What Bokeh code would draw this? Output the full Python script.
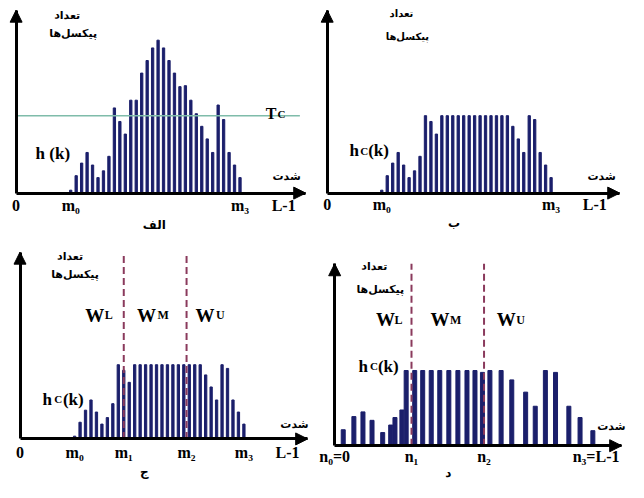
from bokeh.plotting import figure
from bokeh.models import Range1d, FixedTicker, Arrow, NormalHead
from bokeh.layouts import column, row
from bokeh.core.properties import value
from bokeh.embed import file_html
from bokeh.resources import INLINE
import numpy as np

# ---------------- data ----------------
L_MAX = 49                                  # L-1
k_levels = list(range(10, 42))              # grey levels with pixels
h_k = [3, 18, 31, 42, 29, 16, 23, 38, 88, 74, 61, 96, 96, 124, 137, 150,
       158, 150, 137, 124, 110, 111, 96, 82, 69, 56, 42, 91, 76, 42, 29, 16]
T_c = 80                                    # clipping threshold
m0, m1, m2, m3 = 10, 19, 30.5, 41
hc_k = np.minimum(np.array(h_k), T_c)       # clipped histogram

eq_levels = [1.6, 3.6, 5.3, 7.0, 9.0, 10.5, 11.3, 12.6, 13.4, 15.0, 16.5, 18.1,
             19.7, 21.4, 23.1, 24.8, 26.3, 27.7, 29.1, 31.2, 33.2, 35.8, 37.6,
             39.5, 41.4, 43.9, 46.0, 48.4]
eq_h = [17, 31, 36, 27, 14, 22, 30, 38, 80, 80, 80, 80, 80, 80, 80, 80, 80,
        78, 80, 80, 70, 57, 42, 80, 78, 42, 30, 16]
n0, n1, n2, n3 = 0, 14.4, 28.0, 49

labels_1 = {0: "0", m0: "m₀", m3: "m₃", L_MAX: "L-1"}
labels_3 = {0: "0", m0: "m₀", m1: "m₁", m2: "m₂", m3: "m₃", L_MAX: "L-1"}
labels_4 = {n0: "n₀=0", n1: "n₁", n2: "n₂", n3: "n₃=L-1"}

BAR = "#1b1f6b"
SERIF = "Liberation Serif"
FA = "DejaVu Sans"
DASH = "#8a3a5c"

# layout: a 644x498 design drawn on a 628x482 canvas
CW, CH = 628, 482
SX, SY = CW / 644, CH / 498
WL, HT = 314, 237
XS, YS = WL / SX, HT / SY          # split lines in design pixels


class Panel:
    """Figure whose frame fills its box; positions are given in design pixels."""

    def __init__(self, box, size, origin, ppu, tip, ticks, overrides, standoff):
        fx0, fy0, fx1, fy1 = box
        self.ox, self.oy = origin
        self.px, self.py = ppu
        self.p = p = figure(width=size[0], height=size[1],
                            x_range=Range1d(self.X(fx0), self.X(fx1)),
                            y_range=Range1d(self.Y(fy1), self.Y(fy0)),
                            output_backend="svg", toolbar_location=None,
                            min_border_left=0, min_border_right=0,
                            min_border_top=0, min_border_bottom=0)
        p.outline_line_color = None
        p.grid.visible = False
        p.background_fill_color = "white"
        p.border_fill_color = "white"
        self.xt = self.X(tip[0])
        self.yt = self.Y(tip[1])
        xa = p.xaxis[0]
        xa.fixed_location = 0
        xa.bounds = (0, self.xt)
        xa.ticker = FixedTicker(ticks=ticks)
        xa.major_label_overrides = overrides
        xa.axis_line_width = 3
        xa.axis_line_color = "black"
        xa.major_tick_out = 0
        xa.major_tick_in = 0
        xa.minor_tick_out = 0
        xa.minor_tick_in = 0
        xa.major_label_standoff = standoff
        xa.major_label_text_font = SERIF
        xa.major_label_text_font_style = "bold"
        xa.major_label_text_font_size = "16px"
        xa.major_label_text_color = "black"
        ya = p.yaxis[0]
        ya.fixed_location = 0
        ya.bounds = (0, self.yt)
        ya.ticker = FixedTicker(ticks=[])
        ya.axis_line_width = 3
        ya.axis_line_color = "black"
        ya.major_tick_out = 0
        ya.major_tick_in = 0
        ya.minor_tick_out = 0
        ya.minor_tick_in = 0
        ya.major_label_text_font_size = "0px"
        head = dict(size=12, fill_color="black", line_color="black")
        p.add_layout(Arrow(end=NormalHead(**head), x_start=self.xt - 2, y_start=0,
                           x_end=self.xt, y_end=0, line_width=3, line_color="black"))
        p.add_layout(Arrow(end=NormalHead(**head), x_start=0, y_start=self.yt - 8 / self.py,
                           x_end=0, y_end=self.yt, line_width=3, line_color="black"))

    def X(self, dx):
        return (dx - self.ox) / self.px

    def Y(self, dy):
        return (self.oy - dy) / self.py

    def latin(self, left, base, s, size):
        self.p.text(x=[self.X(left)], y=[self.Y(base)], text=[s],
                    text_font=value(SERIF), text_font_style="bold", text_font_size=size,
                    text_align="left", text_baseline="alphabetic", text_color="black")

    def farsi(self, left, mid, s, size="12px"):
        self.p.text(x=[self.X(left)], y=[self.Y(mid)], text=[s],
                    text_font=value(FA), text_font_style="bold", text_font_size=size,
                    text_align="left", text_baseline="middle", text_color="black")

    def ylabel(self, l1, y1, l2, y2, size="11px"):
        self.farsi(l1, y1, "تعداد", size)
        self.farsi(l2, y2, "پیکسل\u200cها", size)

    def dashed(self, xs):
        self.p.segment(x0=xs, y0=[0] * len(xs), x1=xs, y1=[self.yt] * len(xs),
                       line_color=DASH, line_width=2, line_dash="7 4")


# ---------------- panel 1: original histogram ----------------
A = Panel((0, 0, XS, YS), (WL, HT), (16, 199), (5.6, 1.0), (313, 10),
          [0, m0, m3, L_MAX], labels_1, 4)
A.p.vbar(x=k_levels, top=h_k, width=0.42, color=BAR)
A.p.segment(x0=[0], y0=[T_c], x1=[A.X(307)], y1=[T_c], line_color="#7fbcaa", line_width=1.5)
A.ylabel(55, 15, 50, 34)
A.latin(272, 117, "T", "16px")
A.latin(284, 117, "C", "11px")
A.latin(36, 158, "h (k)", "17px")
A.farsi(279, 182, "شدت", "11px")
A.farsi(146, 232, "الف", "12px")

# ---------------- panel 2: clipped histogram ----------------
B = Panel((XS, 0, 644, YS), (CW - WL, HT), (335, 199), (5.6, 1.0), (635, 10),
          [0, m0, m3, L_MAX], labels_1, 3)
B.p.vbar(x=k_levels, top=hc_k, width=0.42, color=BAR)
B.ylabel(399, 13, 395, 37, "10px")
B.latin(358, 155, "h", "17px")
B.latin(369, 155, "C", "11px")
B.latin(377, 155, "(k)", "17px")
B.farsi(602, 182, "شدت", "11px")
B.farsi(459, 230, "ب", "12px")

# ---------------- panel 3: clipped histogram with sub-histograms ----------------
C = Panel((0, YS, XS, 498), (WL, CH - HT), (20, 453), (5.6, 76.7 / T_c), (315, 260),
          [0, m0, m1, m2, m3, L_MAX], labels_3, 5)
C.p.vbar(x=k_levels, top=hc_k, width=0.42, color=BAR)
C.dashed([m1, m2])
C.ylabel(58, 265, 52, 283)
for wx, sx, s in ((87, 107, "L"), (140, 161, "M"), (200, 221, "U")):
    C.latin(wx, 325, "W", "19px")
    C.latin(sx, 325, s, "12px")
C.latin(43, 412, "h", "17px")
C.latin(55, 412, "C", "11px")
C.latin(64, 412, "(k)", "17px")
C.farsi(287, 438, "شدت", "11px")
C.farsi(143, 487, "ج", "12px")

# ---------------- panel 4: equalized histogram ----------------
D = Panel((XS, YS, 644, 498), (CW - WL, CH - HT), (342.7, 460), (5.47, 77.7 / T_c), (637, 272),
          [n0, n1, n2, n3], labels_4, 2)
D.p.vbar(x=eq_levels, top=eq_h, width=0.75, color=BAR)
D.dashed([n1, n2])
D.ylabel(370, 275, 365, 299)
for wx, sx, s in ((385, 404, "L"), (441, 461, "M"), (509, 529, "U")):
    D.latin(wx, 330, "W", "19px")
    D.latin(sx, 330, s, "12px")
D.latin(367, 378, "h", "17px")
D.latin(379, 378, "C", "11px")
D.latin(387, 378, "(k)", "17px")
D.farsi(612, 440, "شدت", "11px")
D.farsi(456, 488, "د", "12px")

layout = column(row(A.p, B.p, spacing=0), row(C.p, D.p, spacing=0), spacing=0)
open("out.html", "w").write(file_html(layout, INLINE))
